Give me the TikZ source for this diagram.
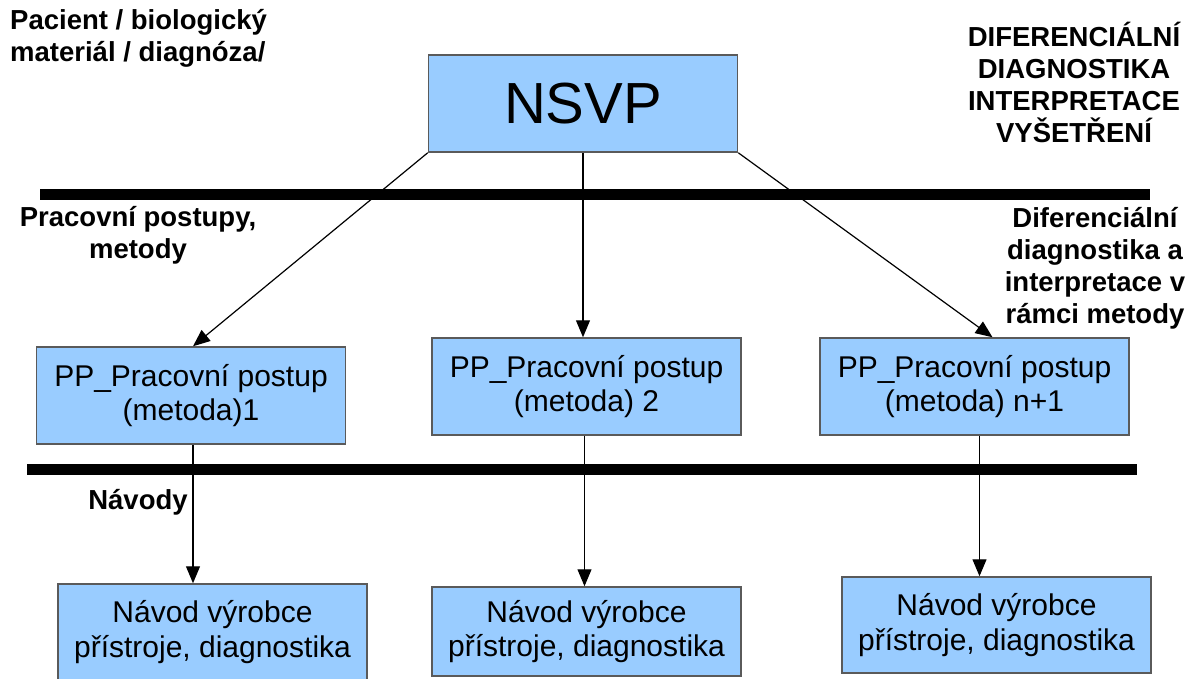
\documentclass[tikz,border=0pt]{standalone}
\usepackage{fontspec}
\setmainfont{Liberation Sans}
\usetikzlibrary{arrows.meta}
\definecolor{boxfill}{HTML}{99CCFF}
\definecolor{boxline}{HTML}{5A5A5A}
\tikzset{box/.style={draw=boxline,fill=boxfill,line width=1.5pt,inner sep=0pt,
                     minimum width=309pt,minimum height=97pt,align=center,
                     font=\fontsize{30}{34.5}\selectfont},
         lbl/.style={inner sep=0pt,font=\bfseries\fontsize{27.5}{32}\selectfont},
         bar/.style={line width=11pt},
         link/.style={draw,line width=1.2pt,-{Triangle[length=17pt,width=14pt]}}
         }

\begin{document}
\begin{tikzpicture}[x=1pt,y=-1pt]
\useasboundingbox (0,0) rectangle (1200,678);

\draw[bar] (40,194.5) -- (1150,194.5);
\draw[bar] (27,469.5) -- (1137,469.5);

\node[box,font=\fontsize{58}{62}\selectfont] (nsvp) at (583,103.5) {NSVP};

\node[box] (pp1) at (191,395.5) {PP\_Pracovní postup\\(metoda)1};
\node[box] (pp2) at (586.5,386.5) {PP\_Pracovní postup\\(metoda) 2};
\node[box] (pp3) at (974.5,386.5) {PP\_Pracovní postup\\(metoda) n+1};

\node[box,minimum height=96pt] (nav1) at (212.5,632) {Návod výrobce\\přístroje, diagnostika};
\node[box,minimum height=89pt] (nav2) at (586.5,631.5) {Návod výrobce\\přístroje, diagnostika};
\node[box,minimum height=96pt] (nav3) at (996.5,625) {Návod výrobce\\přístroje, diagnostika};

\node[lbl,anchor=north west,align=left] (patient) at (10,9) {Pacient / biologický\\materiál / diagnóza/};
\node[lbl,anchor=north,align=center] (difdiag) at (1074,22) {DIFERENCIÁLNÍ\\DIAGNOSTIKA\\INTERPRETACE\\VYŠETŘENÍ};
\node[lbl,anchor=north,align=center] (methods) at (138,206) {Pracovní postupy,\\metody};
\node[lbl,anchor=north,align=center] (difmethod) at (1095,207) {Diferenciální\\diagnostika a\\interpretace v\\rámci metody};
\node[lbl,anchor=north] (guides) at (138,489) {Návody};

\draw[link] (nsvp.south west) -- ([xshift=2pt]pp1.north);
\draw[link] (nsvp.south) -- (nsvp.south |- pp2.north);
\draw[link] (nsvp.south east) -- ([xshift=18pt]pp3.north);

\draw[link] ([xshift=2pt]pp1.south) -- ([xshift=2pt]pp1.south |- nav1.north);
\draw[link] ([xshift=-2pt]pp2.south) -- ([xshift=-2pt]pp2.south |- nav2.north);
\draw[link] ([xshift=5pt]pp3.south) -- ([xshift=5pt]pp3.south |- nav3.north);
\end{tikzpicture}
\end{document}
